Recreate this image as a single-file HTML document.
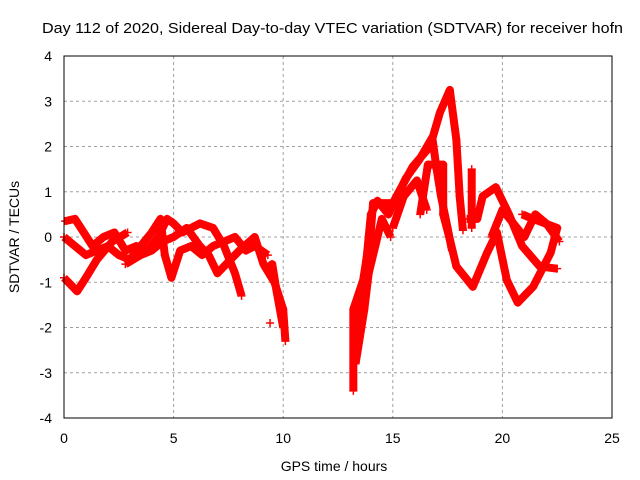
<!DOCTYPE html>
<html><head><meta charset="utf-8"><style>
body{margin:0;background:#fff}
svg{display:block;font-family:"Liberation Sans",sans-serif}
</style></head><body>
<svg id="chart" width="640" height="480" viewBox="0 0 640 480">
<rect width="640" height="480" fill="#fff"/>
<text x="42" y="33" font-size="15" textLength="581" lengthAdjust="spacingAndGlyphs">Day 112 of 2020, Sidereal Day-to-day VTEC variation (SDTVAR) for receiver hofn</text>
<g id="grid"></g>
<g id="ticks" font-size="14"></g>
<g id="series"></g>
<rect x="64" y="56" width="548" height="362" fill="none" stroke="#000" stroke-width="1"/>
<text x="334" y="471" font-size="14" text-anchor="middle">GPS time / hours</text>
<text transform="translate(19,237) rotate(-90)" font-size="14" text-anchor="middle">SDTVAR / TECUs</text>
</svg>
<script>
const xTicks=[0,5,10,15,20,25];
const yTicks=[-4,-3,-2,-1,0,1,2,3,4];
const track1=[[0.05,0.35],[0.5,0.4],[0.9,0.1],[1.3,-0.2],[1.8,0.0],[2.3,0.1],[2.8,-0.3],[3.3,-0.2],[3.8,-0.3],[4.3,0.0],[4.7,0.4],[5.0,0.3],[5.4,0.1],[5.8,0.2],[6.2,0.3],[6.8,0.2],[7.3,-0.2],[7.8,-0.8],[8.1,-1.3]];
const track2=[[0,0.0],[0.5,-0.2],[1.0,-0.4],[1.5,-0.3],[2.0,-0.2],[2.5,-0.4],[3.0,-0.5],[3.5,-0.2],[4.0,0.1],[4.4,0.4],[4.6,-0.4],[4.9,-0.9],[5.3,-0.3],[5.8,-0.2],[6.3,-0.4],[6.8,-0.2],[7.3,-0.1],[7.8,0.0],[8.3,-0.3],[8.7,-0.2],[9.3,-0.4]];
const track3=[[0,-0.9],[0.6,-1.2],[1.0,-0.9],[1.5,-0.5],[2.2,-0.1],[2.9,0.1]];
const track4=[[2.8,-0.6],[3.5,-0.4],[4.0,-0.3],[4.5,-0.1],[5.0,0.0],[5.6,0.2],[6.2,-0.2],[6.6,-0.4],[7.0,-0.8],[7.4,-0.6],[8.0,-0.3],[8.7,0.0],[9.1,-0.6],[9.6,-1.0],[10.0,-1.6],[10.1,-2.3]];
const track5=[[9.2,-0.7],[9.5,-0.6],[9.7,-1.2],[10.0,-2.0]];
const track6=[[13.2,-3.4],[13.2,-1.6],[13.65,-0.95],[14.0,0.15],[14.1,0.75],[15.0,0.75],[15.9,1.55],[16.7,2.0],[17.15,2.75],[17.6,3.25],[17.9,2.15],[18.05,0.9],[18.2,0.15]];
const track7=[[15.0,0.2],[15.5,0.9],[16.1,1.25],[16.55,0.6]];
const track8=[[16.25,0.5],[16.6,1.6],[17.3,1.6],[17.3,0.5],[17.6,-0.05],[17.9,-0.65],[18.65,-1.1],[19.3,-0.35],[19.75,0.1],[20.2,-0.95],[20.7,-1.45],[21.4,-1.1],[22.2,-0.35],[22.5,0.2],[21.4,0.4],[20.9,0.5]];
const track9=[[18.4,0.4],[18.85,0.4],[19.1,0.9],[19.7,1.1],[20.3,0.5],[20.9,-0.2],[21.7,-0.65],[22.5,-0.7]];
const track10=[[18.6,1.5],[18.6,0.2]];
const track11=[[13.4,-2.0],[13.6,-1.3],[13.8,-0.5],[14.0,0.5],[14.3,0.8],[14.8,0.5],[15.2,0.9],[15.6,1.3],[16.2,1.7],[16.8,2.2],[17.0,1.5],[17.2,0.9],[17.5,0.2],[17.7,-0.3]];
const track12=[[19.5,0.0],[20.0,0.6],[20.5,0.3],[21.0,0.0],[21.5,0.5],[22.0,0.3],[22.6,-0.1]];
const track13=[[13.3,-2.8],[13.5,-2.2],[13.7,-1.6],[13.9,-0.8],[14.2,-0.2],[14.5,0.4],[14.9,0.0]];
const singles=[[9.4,-1.9]];
const tracks=[track1,track2,track3,track4,track5,track6,track7,track8,track9,track10,track11,track12,track13,singles];
const X=t=>64+t*21.92, Y=v=>237-v*45.25;
const NS='http://www.w3.org/2000/svg';
const grid=document.getElementById('grid'),ticks=document.getElementById('ticks'),ser=document.getElementById('series');
xTicks.forEach(t=>{
 if(t>0&&t<25){const l=document.createElementNS(NS,'line');
 
 
 l.setAttribute('x1',X(t));l.setAttribute('x2',X(t));l.setAttribute('y1',56);l.setAttribute('y2',418);
 l.setAttribute('stroke','#a0a0a0');l.setAttribute('stroke-dasharray','3,3');grid.appendChild(l);}
 const tx=document.createElementNS(NS,'text');
 
 
 tx.setAttribute('x',X(t));tx.setAttribute('y',443);tx.setAttribute('text-anchor','middle');tx.textContent=t;ticks.appendChild(tx);
});
yTicks.forEach(v=>{
 if(v>-4&&v<4){const l=document.createElementNS(NS,'line');
 
 
 l.setAttribute('x1',64);l.setAttribute('x2',612);l.setAttribute('y1',Y(v));l.setAttribute('y2',Y(v));
 l.setAttribute('stroke','#a0a0a0');l.setAttribute('stroke-dasharray','3,3');grid.appendChild(l);}
 const tx=document.createElementNS(NS,'text');
 
 
 tx.setAttribute('x',52);tx.setAttribute('y',Y(v)+5);tx.setAttribute('text-anchor','end');tx.textContent=v;ticks.appendChild(tx);
});
tracks.forEach(tr=>{
 const p=document.createElementNS(NS,'polyline');
 
 
 p.setAttribute('points',tr.map(d=>X(d[0])+','+Y(d[1])).join(' '));
 p.setAttribute('fill','none');p.setAttribute('stroke','#f00');p.setAttribute('stroke-width','8');p.setAttribute('stroke-linejoin','round');
 ser.appendChild(p);
 tr.forEach(d=>{
  const m=document.createElementNS(NS,'path');
  
  
  const x=X(d[0]),y=Y(d[1]);
  m.setAttribute('d',`M${x-4},${y}H${x+4}M${x},${y-4}V${y+4}`);
  m.setAttribute('stroke','#f00');m.setAttribute('stroke-width','1.5');
  ser.appendChild(m);
 });
});
</script>
</body></html>
